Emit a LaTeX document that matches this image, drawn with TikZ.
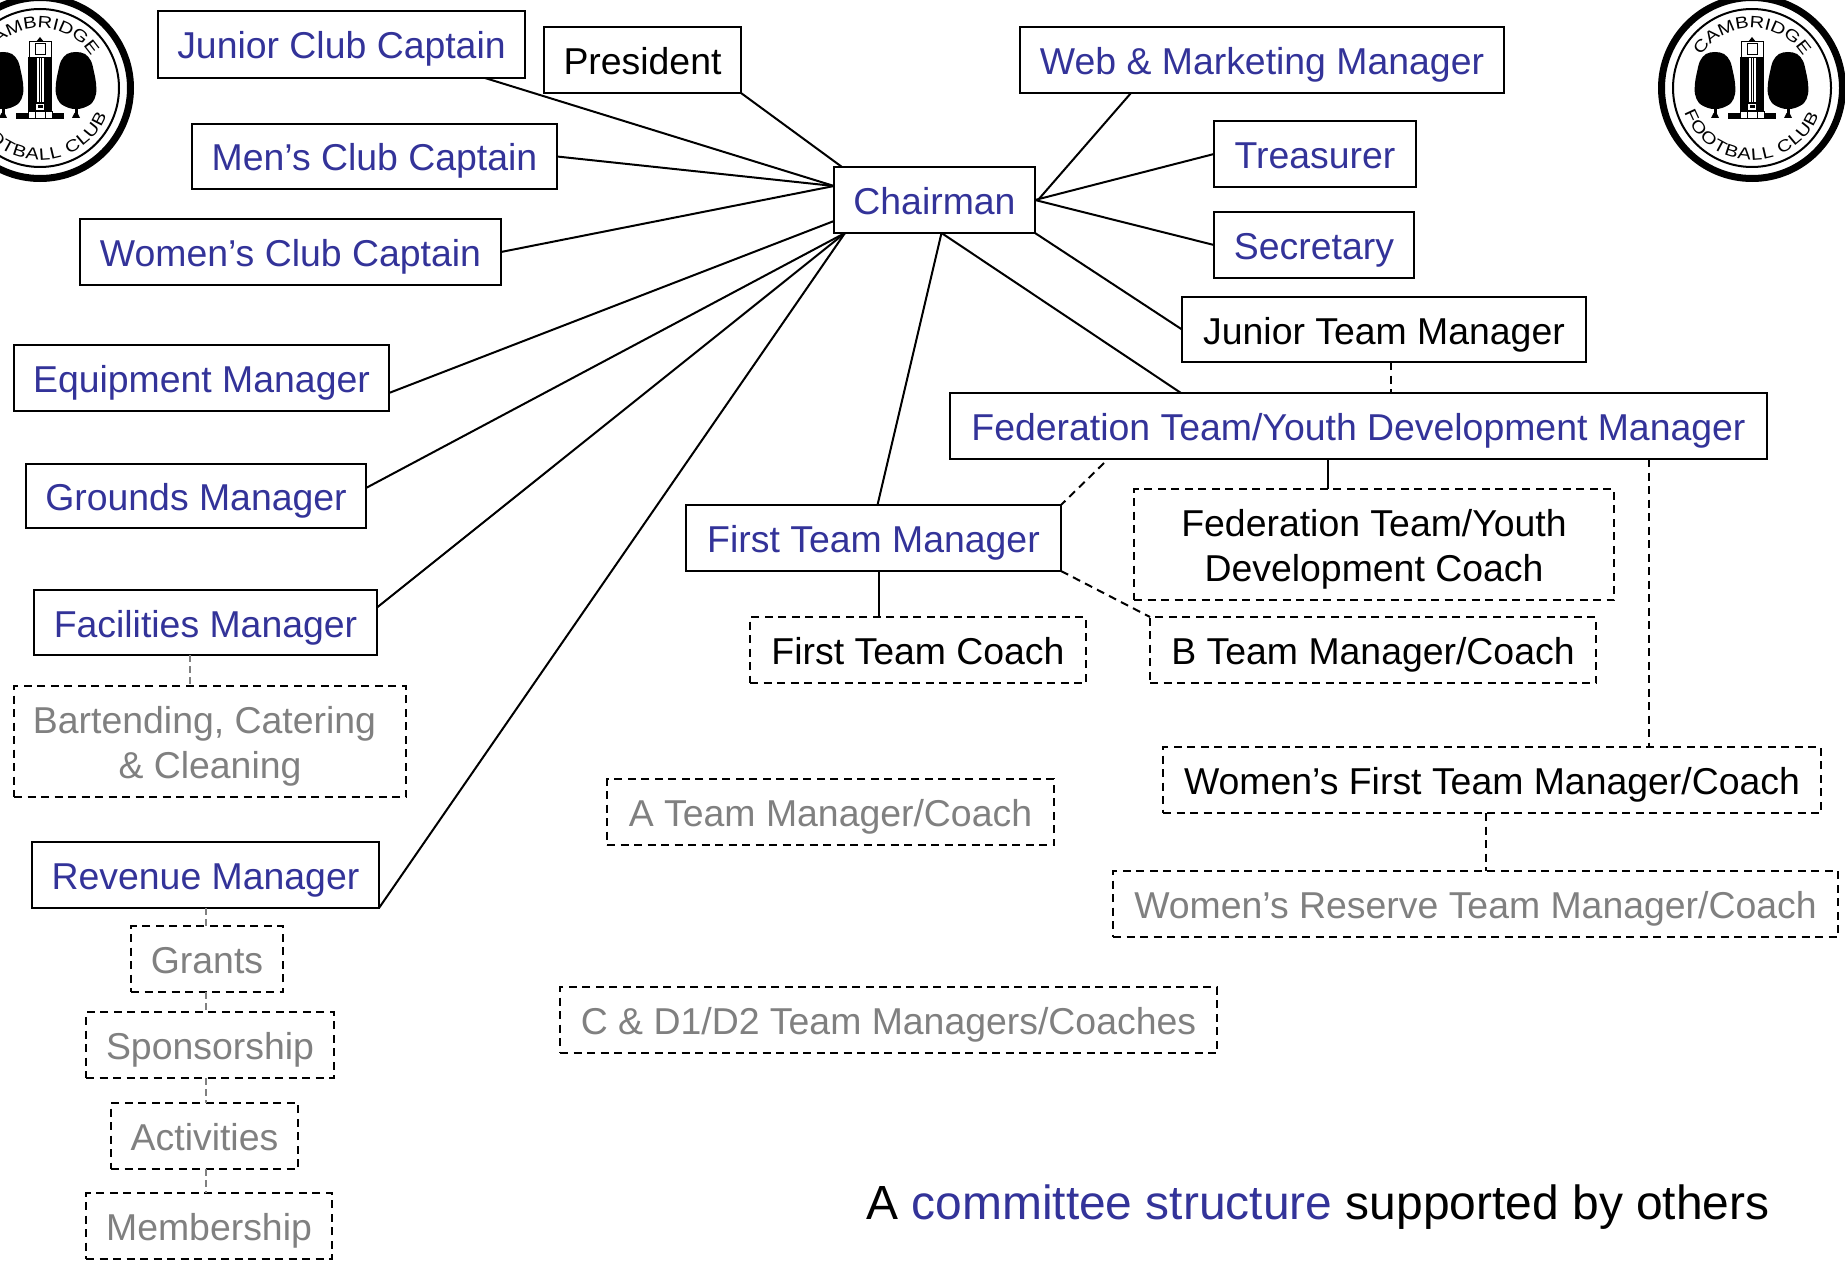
\documentclass[tikz,border=0pt]{standalone}
\usepackage{fontspec}
\setmainfont{Liberation Sans}
\newfontfamily\crestfont[FakeStretch=1.22]{Liberation Sans}
\usetikzlibrary{calc,decorations.text}
\definecolor{navy}{HTML}{333399}
\definecolor{soft}{HTML}{808080}
\tikzset{
  basebox/.style={rectangle,draw=black,line width=2pt,inner sep=0pt,outer sep=0pt,fill=white,align=center,font=\fontsize{37.4}{45}\selectfont},
  oneline/.style={text height=32pt,text depth=3pt},
  dashbox/.style={basebox,dash pattern=on 8pt off 5.5pt},
  link/.style={line width=2pt,draw=black},
  dlink/.style={line width=2pt,draw=black,dash pattern=on 8pt off 5.5pt},
  glink/.style={line width=1.5pt,draw=soft,dash pattern=on 7pt off 4pt},
  logotext/.style={decorate,decoration={text along path,text align={fit to path},text={|\crestfont\fontsize{16.5}{16.5}\selectfont|#1}}},
}
\newcommand{\bx}[7]{%
  \pgfmathsetmacro{\bxw}{#4-#2}\pgfmathsetmacro{\bxh}{#5-#3}%
  \node[#6,minimum width=\bxw pt,minimum height=\bxh pt] (#1) at ({(#2+#4)/2},{(#3+#5)/2}) {#7};%
}
\newcommand{\crest}[2]{%
  \begin{scope}[shift={(#1,#2)},y=1pt]
    \fill[white] (0,0) circle (96);
    \draw[line width=7pt] (0,0) circle (90.5);
    \draw[line width=2pt] (0,0) circle (79);
    \path[logotext={CAMBRIDGE}] (148:60) arc (148:32:60);
    \path[logotext={FOOTBALL CLUB}] (-160:72) arc (-160:-22:72);
    % trees
    \foreach \tx in {-37,36}{
      \begin{scope}[shift={(\tx,0)}]
        \fill plot[smooth cycle,tension=0.6] coordinates {(0,36) (9,34) (15,27) (18,16) (20,5) (20,-6) (16,-15) (7,-20) (0,-21) (-7,-20) (-16,-15) (-20,-6) (-20,5) (-18,16) (-15,27) (-9,34)};
        \fill (-1.5,-18) rectangle (1.5,-30);
        \fill (-4,-30) -- (4,-30) -- (1.5,-25) -- (-1.5,-25) -- cycle;
      \end{scope}
    }
    % tower
    \fill (-12,30) rectangle (12,-24);
    \fill[white] (-3.5,30) rectangle (3.5,-14);
    \draw[line width=0.8pt] (-1,30) -- (-1,-14) (1,30) -- (1,-14);
    \draw[line width=1pt,fill=white] (-11,30) rectangle (11,46);
    \fill (-11,46) -- (-4,46) -- (0,51) -- (4,46) -- (11,46) -- cycle;
    \draw[line width=1pt] (-5,33) rectangle (5,44);
    \draw[line width=1pt] (-12,30.5) -- (12,30.5);
    \fill[white] (-4,-16) rectangle (4,-22);
    \fill (-2.5,-17.5) rectangle (2.5,-20.5);
    \fill (-24,-25) rectangle (24,-31);
    \draw[line width=1pt,fill=white] (-5,-24) rectangle (5,-31);
    \draw[line width=1pt,fill=white] (-12,-24) rectangle (-5,-31);
    \draw[line width=1pt,fill=white] (12,-24) rectangle (5,-31);
  \end{scope}
}
\begin{document}
\begin{tikzpicture}[x=1pt,y=-1pt]
\useasboundingbox (0,0) rectangle (1845,1268);
\begin{scope}
\clip (0,0) rectangle (1845,1268);
\crest{40}{88}
\crest{1752}{88}
\end{scope}

% solid boxes
\bx{jcc}{158}{11}{525}{78}{basebox,oneline,text=navy}{Junior Club Captain}
\bx{pres}{544}{27}{741}{93}{basebox,oneline}{President}
\bx{web}{1020}{27}{1504}{93}{basebox,oneline,text=navy}{Web \& Marketing Manager}
\bx{chair}{834}{167}{1035}{233}{basebox,oneline,text=navy}{Chairman}
\bx{mcc}{192}{124}{557}{189}{basebox,oneline,text=navy}{Men’s Club Captain}
\bx{wcc}{80}{219}{501}{285}{basebox,oneline,text=navy}{Women’s Club Captain}
\bx{treas}{1214}{121}{1416}{187}{basebox,oneline,text=navy}{Treasurer}
\bx{sec}{1214}{212}{1414}{278}{basebox,oneline,text=navy}{Secretary}
\bx{jtm}{1182}{297}{1586}{362}{basebox,oneline}{Junior Team Manager}
\bx{fed}{950}{393}{1767}{459}{basebox,oneline,text=navy}{Federation Team/Youth Development Manager}
\bx{equip}{14}{345}{389}{411}{basebox,oneline,text=navy}{Equipment Manager}
\bx{ground}{26}{464}{366}{528}{basebox,oneline,text=navy}{Grounds Manager}
\bx{facil}{34}{590}{377}{655}{basebox,oneline,text=navy}{Facilities Manager}
\bx{rev}{32}{842}{379}{908}{basebox,oneline,text=navy}{Revenue Manager}
\bx{ftm}{686}{505}{1061}{571}{basebox,oneline,text=navy}{First Team Manager}

% dashed boxes
\bx{bart}{14}{686}{406}{797}{dashbox,text=soft}{\rule{0pt}{37pt}Bartending, Catering\hspace*{11pt}\\\& Cleaning}
\bx{fcoach}{1134}{489}{1614}{600}{dashbox}{\rule{0pt}{37pt}Federation Team/Youth\\Development Coach}
\bx{ftc}{750}{617}{1086}{683}{dashbox,oneline}{First Team Coach}
\bx{bteam}{1150}{617}{1596}{683}{dashbox,oneline}{B Team Manager/Coach}
\bx{wf}{1163}{747}{1821}{813}{dashbox,oneline}{Women’s First Team Manager/Coach}
\bx{ateam}{607}{779}{1054}{845}{dashbox,oneline,text=soft}{A Team Manager/Coach}
\bx{wr}{1113}{871}{1838}{937}{dashbox,oneline,text=soft}{Women’s Reserve Team Manager/Coach}
\bx{cd}{560}{987}{1217}{1053}{dashbox,oneline,text=soft}{C \& D1/D2 Team Managers/Coaches}
\bx{grants}{131}{926}{283}{992}{dashbox,oneline,text=soft}{Grants}
\bx{spons}{86}{1012}{334}{1078}{dashbox,oneline,text=soft}{Sponsorship}
\bx{activ}{111}{1103}{298}{1169}{dashbox,oneline,text=soft}{Activities}
\bx{memb}{86}{1193}{332}{1259}{dashbox,oneline,text=soft}{Membership}

\node[inner sep=0pt,anchor=base west,font=\fontsize{47.95}{55}\selectfont] (caption) at (866,1219)
  {A \textcolor{navy}{committee structure} supported by others};

% solid connectors to the chairman
\draw[link] (pres.south east) -- ($(chair.north west)+(8,0)$);
\draw[link] ($(jcc.south east)+(-40,0)$) -- ($(chair.west)+(0,-14)$);
\draw[link] (mcc.east) -- ($(chair.west)+(0,-14)$);
\draw[link] (wcc.east) -- ($(chair.west)+(0,-14)$);
\draw[link] ($(equip.east)+(0,15)$) -- ($(chair.west)+(0,21)$);
\draw[link] ($(ground.east)+(0,-8)$) -- ($(chair.south west)+(11,0)$);
\draw[link] ($(facil.east)+(0,-15)$) -- ($(chair.south west)+(11,0)$);
\draw[link] (rev.south east) -- ($(chair.south west)+(11,0)$);
\draw[link] ($(ftm.north)+(4,0)$) -- ($(chair.south)+(7,0)$);
\draw[link] ($(fed.north west)+(231,0)$) -- ($(chair.south)+(7,0)$);
\draw[link] (jtm.west) -- (chair.south east);
\draw[link] (sec.west) -- (chair.east);
\draw[link] (treas.west) -- (chair.east);
\draw[link] ($(web.south west)+(111,0)$) -- ($(chair.east)+(3,0)$);

% other connectors
\draw[dlink] ($(jtm.south)+(7,0)$) -- ($(fed.north west)+(441,0)$);
\draw[dlink] ($(fed.south west)+(154,4)$) -- (ftm.north east);
\draw[link] ($(fed.south west)+(378,0)$) -- ($(fcoach.north west)+(194,0)$);
\draw[link] ($(ftm.south)+(5.5,0)$) -- ($(ftc.north west)+(129,0)$);
\draw[dlink] (ftm.south east) -- (bteam.north west);
\draw[dlink] ($(fed.south west)+(699,0)$) -- ($(wf.north west)+(486,0)$);
\draw[dlink] ($(wf.south west)+(323,0)$) -- ($(wr.north west)+(373,0)$);
\draw[glink] ($(facil.south west)+(156,0)$) -- ($(bart.north west)+(176,0)$);
\draw[glink] ($(rev.south west)+(174,0)$) -- ($(grants.north west)+(75,0)$);
\draw[glink] ($(grants.south west)+(75,0)$) -- ($(spons.north west)+(120,0)$);
\draw[glink] ($(spons.south west)+(120,0)$) -- ($(activ.north west)+(95,0)$);
\draw[glink] ($(activ.south west)+(95,0)$) -- ($(memb.north west)+(120,0)$);
\end{tikzpicture}
\end{document}
